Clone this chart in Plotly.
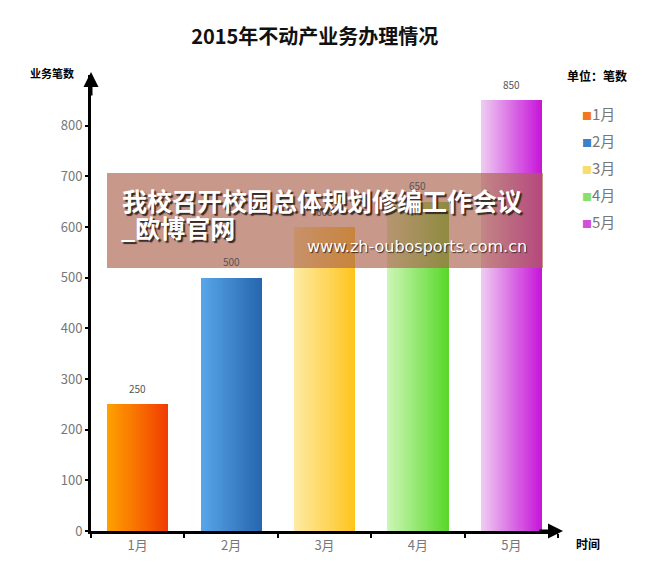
import plotly.graph_objects as go

categories = ["1月", "2月", "3月", "4月", "5月"]
values = [250, 500, 600, 650, 850]
left_colors = ["#FFA200", "#58A6EA", "#FDEBA6", "#CDF6B6", "#EFCDF2"]
right_colors = ["#F03C00", "#2766AE", "#FFC41A", "#58D82A", "#C614D8"]
legend_colors = ["#F07820", "#3C80C8", "#F8DC70", "#88E070", "#D050D8"]
y_ticks = [0, 100, 200, 300, 400, 500, 600, 700, 800]

FONT = "Noto Sans CJK SC"
N = 30
W = 0.655

L, R, T, B = 91, 91, 75, 50
PW, PH = 649 - L - R, 581 - T - B


def px(x):
    return (x - L) / PW


def py(y):
    return (581 - B - y) / PH


def hex2rgb(h):
    h = h.lstrip("#")
    return tuple(int(h[i:i + 2], 16) for i in (0, 2, 4))


def mix(a, b, t):
    ra, rb = hex2rgb(a), hex2rgb(b)
    return "rgb(%d,%d,%d)" % tuple(round(ra[k] + (rb[k] - ra[k]) * t) for k in range(3))


fig = go.Figure()
for i in range(N):
    t = (i + 0.5) / N
    fig.add_trace(go.Bar(
        x=categories, y=values,
        width=W / N * 1.05, offset=-W / 2 + i * W / N,
        marker=dict(color=[mix(l, r, t) for l, r in zip(left_colors, right_colors)], line=dict(width=0)),
        showlegend=False, hoverinfo="skip",
    ))

fig.update_layout(
    width=649, height=581,
    margin=dict(l=L, r=R, t=T, b=B, autoexpand=False),
    paper_bgcolor="white", plot_bgcolor="white",
    barmode="overlay", bargap=0, showlegend=False,
    font=dict(family=FONT, color="#777777", size=13),
    title=dict(text="2015年不动产业务办理情况", x=0.485, xanchor="center", y=1 - 37 / 581, yanchor="middle",
               font=dict(family=FONT, size=20, color="#111111", weight="bold")),
    xaxis=dict(range=[-0.5, 4.5], showline=True, linewidth=3, linecolor="black", showgrid=False,
               ticks="outside", tickson="boundaries", ticklen=4, tickwidth=2, tickcolor="black",
               tickfont=dict(size=13, color="#777777"), zeroline=False),
    yaxis=dict(range=[0, 900], tickvals=y_ticks, showline=True, linewidth=3, linecolor="black",
               showgrid=False, ticks="outside", ticklen=3, tickwidth=2, tickcolor="black",
               tickfont=dict(size=13, color="#777777"), zeroline=False),
)

# value labels
for i, v in enumerate(values):
    fig.add_annotation(x=i, y=v, xref="x", yref="y", text=str(v), showarrow=False,
                       yshift=16, font=dict(family=FONT, size=10, color="#555555"))

# axis arrows
fig.add_annotation(x=0, y=py(72), xref="paper", yref="paper", ax=0, ay=25, text="", showarrow=True,
                   arrowhead=2, arrowsize=1, arrowwidth=3, arrowcolor="black")
fig.add_annotation(x=px(563), y=0, xref="paper", yref="paper", ax=-25, ay=0, text="", showarrow=True,
                   arrowhead=2, arrowsize=1, arrowwidth=3, arrowcolor="black")


def label(text, x, y, size, xanchor="center", **kw):
    fig.add_annotation(x=px(x), y=py(y), xref="paper", yref="paper", text=text, showarrow=False,
                       xanchor=xanchor, yanchor="middle", font=dict(size=size, **kw))


# legend (text based)
for k, (c, col) in enumerate(zip(categories, legend_colors)):
    label('<span style="color:%s;font-size:10px">■</span>%s' % (col, c), 580, 113 + 27 * k, 15,
          xanchor="left", family=FONT, color="#777777")

# axis titles & unit
label("业务笔数", 52, 73, 11, family=FONT, color="black", weight="bold")
label("时间", 588, 543, 12, family=FONT, color="black", weight="bold")
label("单位：笔数", 597, 76, 12, family=FONT, color="black", weight="bold")

# watermark overlay
fig.add_shape(type="rect", xref="paper", yref="paper", x0=px(107), x1=px(543),
              y0=py(268), y1=py(173), fillcolor="rgba(172,98,78,0.66)",
              line=dict(width=0), layer="above")
shadow = "2px 2px 1px #3a2a25"
label("我校召开校园总体规划修编工作会议", 120, 200, 25, xanchor="left",
      family=FONT, color="white", weight="bold", shadow=shadow)
label("_欧博官网", 119, 227, 25, xanchor="left",
      family=FONT, color="white", weight="bold", shadow=shadow)
label("www.zh-oubosports.com.cn", 529, 246, 16, xanchor="right",
      family="DejaVu Sans", color="white", shadow="1px 1px 1px #3a2a25")

fig.write_html("out.html")
